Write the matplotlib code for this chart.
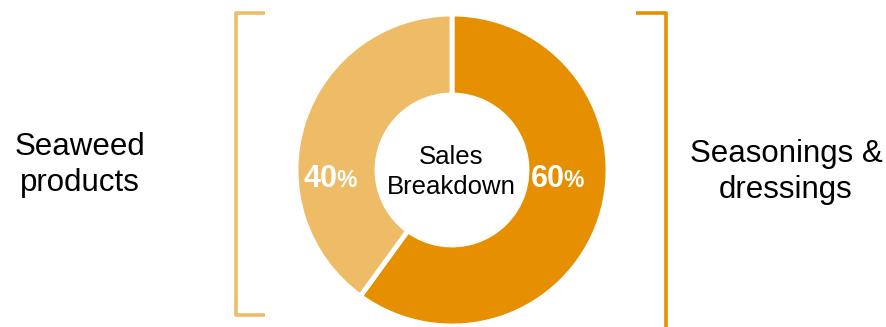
import matplotlib
matplotlib.use('Agg')
import matplotlib.pyplot as plt

plt.rcParams['font.family'] = ['Liberation Sans', 'DejaVu Sans']

segments = ['Seasonings &\ndressings', 'Seaweed\nproducts']
shares = [60, 40]
colors = ['#E68F00', '#EEBC67']
center_title = 'Sales\nBreakdown'

W, H = 886, 327
fig = plt.figure(figsize=(W / 100, H / 100), dpi=100)
ax = fig.add_axes([0, 0, 1, 1])

cx, cy, r_out, r_in = 452, 157, 156, 75
ax.pie(shares, colors=colors, startangle=90, counterclock=False,
       center=(cx, cy), radius=r_out,
       wedgeprops=dict(width=r_out - r_in, edgecolor='white', linewidth=3.5))
ax.set_xlim(0, W)
ax.set_ylim(0, H)
ax.set_aspect('equal')
ax.axis('off')

# center title
ax.text(cx - 1, H - 172, center_title, ha='center', va='center', fontsize=18.5,
        linespacing=1.28, color='black')

# percentage labels (big number + smaller %)
def pct(x, y, v):
    ax.text(x, y, f'{v}', ha='right', va='baseline', fontsize=22,
            fontweight='bold', color='white')
    ax.text(x - 2, y, '%', ha='left', va='baseline', fontsize=16.5,
            fontweight='bold', color='white')

pct(565, H - 187, shares[0])
pct(338, H - 187, shares[1])

# side labels
ax.text(786, H - 172, segments[0], ha='center', va='center', fontsize=22.5,
        linespacing=1.25)
ax.text(80, H - 165, segments[1], ha='center', va='center', fontsize=22.5,
        linespacing=1.25)

# brackets
ax.plot([265, 236, 236, 265], [H - 13, H - 13, H - 315, H - 315],
        color=colors[1], lw=2.6, solid_joinstyle='round', solid_capstyle='butt')
ax.plot([636, 666, 666], [H - 13, H - 13, -5],
        color=colors[0], lw=2.6, solid_joinstyle='round', solid_capstyle='butt')

fig.savefig('out.png', dpi=100)
